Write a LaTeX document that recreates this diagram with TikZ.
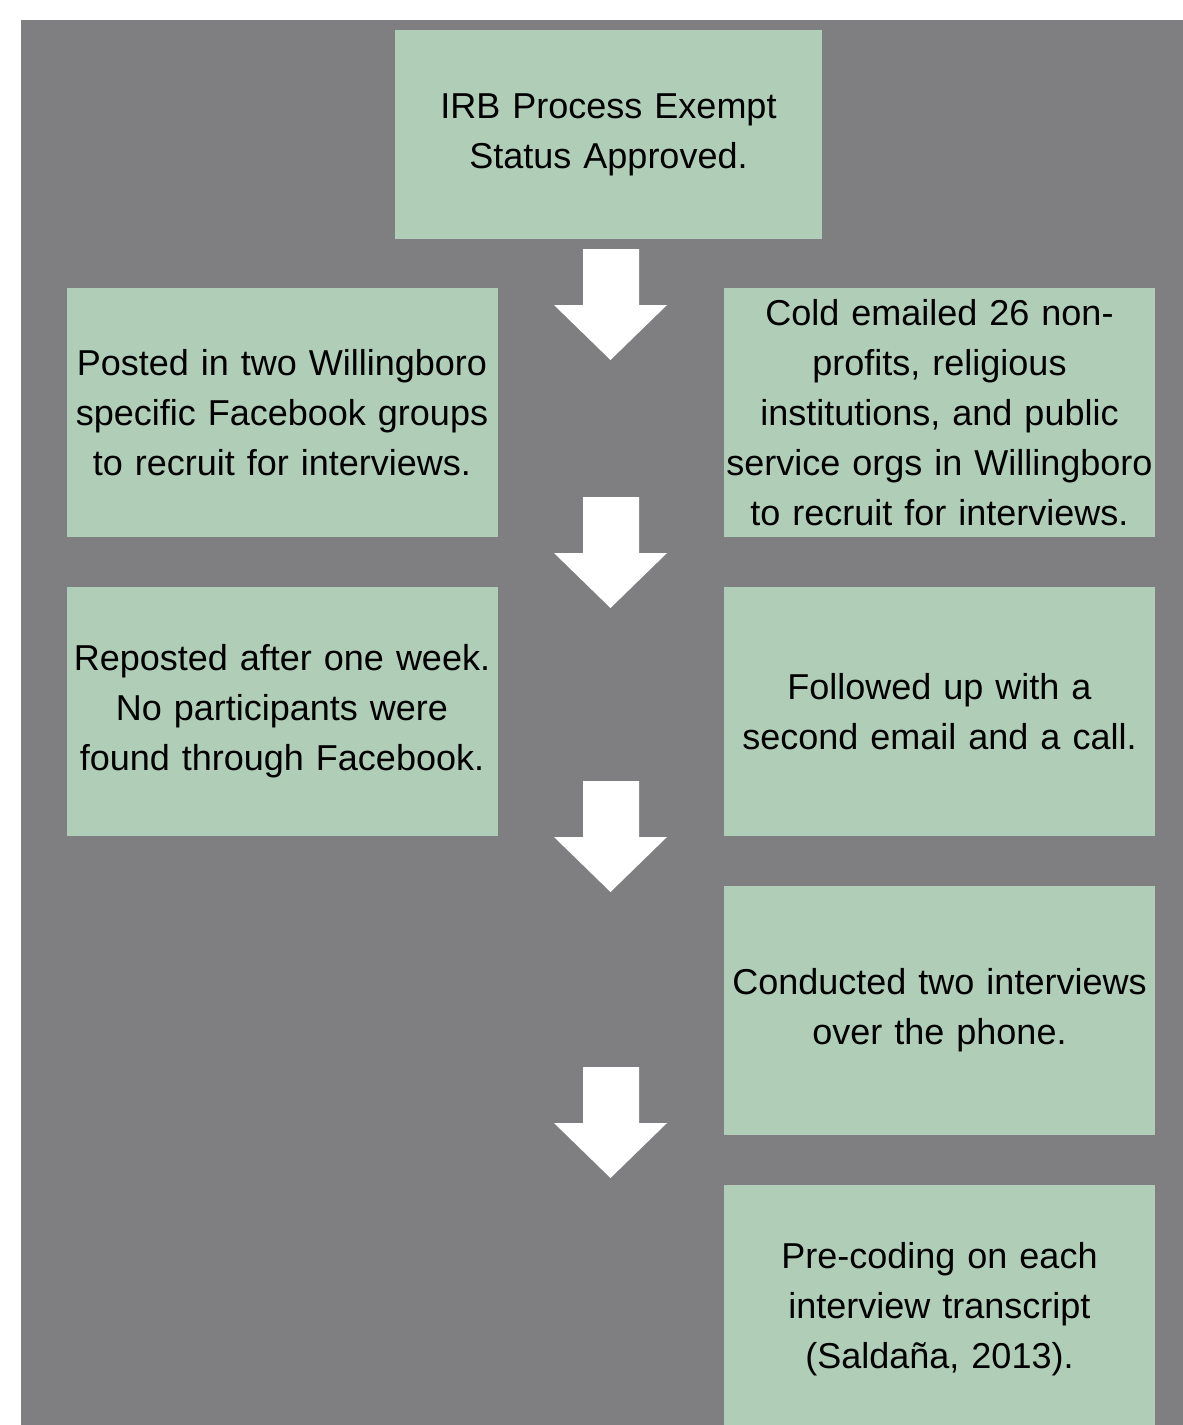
\documentclass[tikz,border=0pt]{standalone}
\usepackage{fontspec}
\setmainfont{Liberation Sans}
\definecolor{panelgray}{HTML}{7F7E80}
\definecolor{stepgreen}{HTML}{AFCDB7}

\begin{document}
\begin{tikzpicture}[x=1pt,y=-1pt,
  stepbox/.style={fill=stepgreen, inner sep=0pt, minimum width=431pt,
    minimum height=249pt, text width=431pt, align=center,
    font=\fontsize{36}{50}\selectfont}]

% Page and gray panel
\useasboundingbox (0,0) rectangle (1183,1425);
\fill[white] (0,0) rectangle (1183,1425);
\clip (0,0) rectangle (1183,1425);
\fill[panelgray] (21,20) rectangle (1183,1425);

% Define the column centres
\def\leftcol{282}
\def\rightcol{939.5}

% Top block
\node[stepbox, minimum width=427pt, minimum height=209pt, text width=427pt] (irb) at (608.5,134.5) {IRB Process Exempt\\Status Approved.};

% Facebook column
\node[stepbox] (fbpost) at (\leftcol,412.5) {Posted in two Willingboro\\specific Facebook groups\\to recruit for interviews.};
\node[stepbox] (fbrepost) at (\leftcol,711.5) {Reposted after one week.\\No participants were\\found through Facebook.};

% Email column
\node[stepbox] (email) at (\rightcol,412.5) {Cold emailed 26 non-\\profits, religious\\institutions, and public\\service orgs in Willingboro\\to recruit for interviews.};
\node[stepbox] (followup) at (\rightcol,711.5) {Followed up with a\\second email and a call.};
\node[stepbox] (interviews) at (\rightcol,1010.5) {Conducted two interviews\\over the phone.};
\node[stepbox] (precoding) at (\rightcol,1309.5) {Pre-coding on each\\interview transcript\\(Salda\~na, 2013).};

% White block arrows down the middle
\foreach \ytop in {249,497,781,1067} {
  \fill[white] (583,\ytop) -- (639,\ytop) -- (639,\ytop+56) -- (667,\ytop+56)
    -- (610.5,\ytop+111) -- (554,\ytop+56) -- (583,\ytop+56) -- cycle;
}

\end{tikzpicture}
\end{document}
